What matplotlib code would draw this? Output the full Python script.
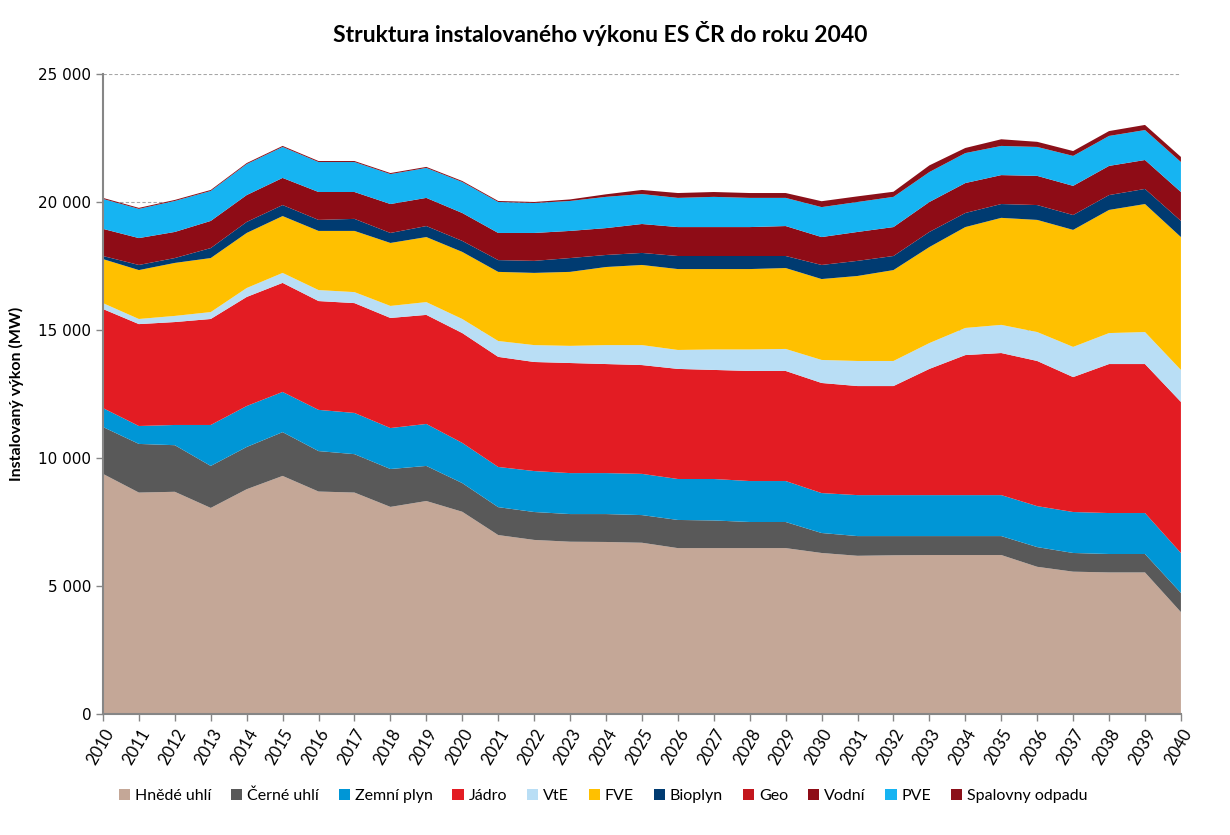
import matplotlib
matplotlib.use("Agg")
import matplotlib.pyplot as plt
from matplotlib.ticker import FuncFormatter

years = list(range(2010, 2041))

hnede_uhli = [9380, 8650, 8680, 8050, 8780, 9300, 8690, 8650, 8090, 8320, 7900,
              6990, 6800, 6730, 6720, 6690, 6480, 6480, 6480, 6480, 6290,
              6180, 6200, 6210, 6210, 6210, 5750, 5560, 5530, 5530, 3980]
cerne_uhli = [1830, 1900, 1820, 1640, 1650, 1710, 1580, 1500, 1480, 1370, 1120,
              1090, 1090, 1080, 1090, 1080, 1100, 1080, 1020, 1020, 780,
              770, 750, 740, 740, 740, 770, 730, 720, 720, 750]
zemni_plyn = [740, 700, 790, 1600, 1600, 1570, 1610, 1610, 1600, 1640, 1570,
              1570, 1600, 1600, 1600, 1610, 1600, 1620, 1600, 1600, 1560,
              1600, 1600, 1600, 1600, 1600, 1600, 1600, 1600, 1600, 1560]
jadro = [3870, 3980, 4020, 4140, 4260, 4260, 4250, 4290, 4300, 4260, 4290,
         4300, 4260, 4300, 4260, 4250, 4300, 4260, 4300, 4300, 4300,
         4260, 4260, 4930, 5470, 5550, 5670, 5270, 5820, 5820, 5900]
vte = [230, 200, 240, 270, 350, 390, 430, 430, 470, 500, 550,
       620, 660, 670, 740, 780, 740, 800, 840, 860, 900,
       980, 980, 1010, 1060, 1100, 1130, 1180, 1210, 1250, 1250]
fve = [1720, 1910, 2070, 2110, 2150, 2220, 2310, 2390, 2460, 2540, 2620,
       2700, 2820, 2890, 3050, 3130, 3160, 3140, 3140, 3160, 3160,
       3320, 3550, 3750, 3940, 4180, 4380, 4570, 4810, 5000, 5190]
bioplyn = [120, 200, 190, 390, 430, 430, 430, 470, 390, 430, 430,
           460, 470, 540, 470, 470, 510, 510, 510, 470, 550,
           590, 550, 590, 550, 540, 580, 580, 580, 590, 630]
geo = [0] * 31
vodni = [1060, 1050, 1020, 1060, 1050, 1060, 1090, 1050, 1130, 1100, 1090,
         1060, 1090, 1060, 1050, 1130, 1130, 1130, 1130, 1170, 1090,
         1130, 1130, 1170, 1170, 1130, 1140, 1140, 1140, 1130, 1130]
pve = [1170, 1140, 1210, 1170, 1210, 1210, 1170, 1170, 1170, 1170, 1210,
       1210, 1170, 1170, 1220, 1170, 1140, 1180, 1140, 1100, 1170,
       1170, 1180, 1170, 1170, 1140, 1130, 1170, 1170, 1170, 1170]
spalovny = [40, 40, 40, 40, 40, 40, 40, 40, 40, 40, 40,
            40, 40, 60, 100, 160, 190, 190, 190, 190, 230,
            220, 200, 260, 200, 260, 200, 190, 190, 200, 200]

labels = ["Hnědé uhlí", "Černé uhlí", "Zemní plyn", "Jádro", "VtE", "FVE",
          "Bioplyn", "Geo", "Vodní", "PVE", "Spalovny odpadu"]
colors = ["#C4A797", "#595959", "#0096D6", "#E31C23", "#B9DEF5", "#FFC000",
          "#003B71", "#C3161D", "#8E0C16", "#16B4F2", "#8B1019"]

plt.rcParams['font.family'] = ['Lato', 'DejaVu Sans']

fig = plt.figure(figsize=(12.3, 8.35), dpi=100)
ax = fig.add_axes([0.0837, 0.1449, 0.8764, 0.7665])

series = [hnede_uhli, cerne_uhli, zemni_plyn, jadro, vte, fve,
          bioplyn, geo, vodni, pve, spalovny]
ax.stackplot(years, *series, labels=labels, colors=colors, linewidth=0, zorder=2)

ax.set_xlim(2010, 2040)
ax.set_ylim(0, 25000)
ax.set_yticks(range(0, 25001, 5000))
ax.yaxis.set_major_formatter(FuncFormatter(lambda v, p: f"{int(v):,}".replace(",", " ")))
ax.set_xticks(years)
ax.set_xticklabels([str(y) for y in years], rotation=60, ha='right',
                   rotation_mode='anchor', fontsize=12)
ax.tick_params(axis='y', labelsize=11, colors='#868686', length=5, width=1,
               labelcolor='black')
ax.tick_params(axis='x', length=5, width=1, colors='#868686', labelcolor='black')
for lab in ax.get_yticklabels():
    lab.set_fontfamily('DejaVu Sans')

ax.grid(axis='y', color='#A6A6A6', linestyle=(0, (3, 2)), linewidth=0.8, zorder=0)
ax.set_axisbelow(True)
for s in ['top', 'right']:
    ax.spines[s].set_visible(False)
for s in ['left', 'bottom']:
    ax.spines[s].set_color('#868686')
    ax.spines[s].set_linewidth(1.5)
    ax.spines[s].set_zorder(3)

ax.set_ylabel('Instalovaný výkon (MW)', fontsize=11.5, fontweight='bold', labelpad=10)
fig.suptitle('Struktura instalovaného výkonu ES ČR do roku 2040', fontsize=16.5,
             fontweight='bold', x=0.488, y=0.975)

ax.legend(loc='center', bbox_to_anchor=(0.464, -0.128), ncol=11, frameon=False,
          fontsize=11.5, handlelength=0.7, handleheight=0.7, handletextpad=0.3,
          columnspacing=1.25)

fig.savefig('out.png', dpi=100)
